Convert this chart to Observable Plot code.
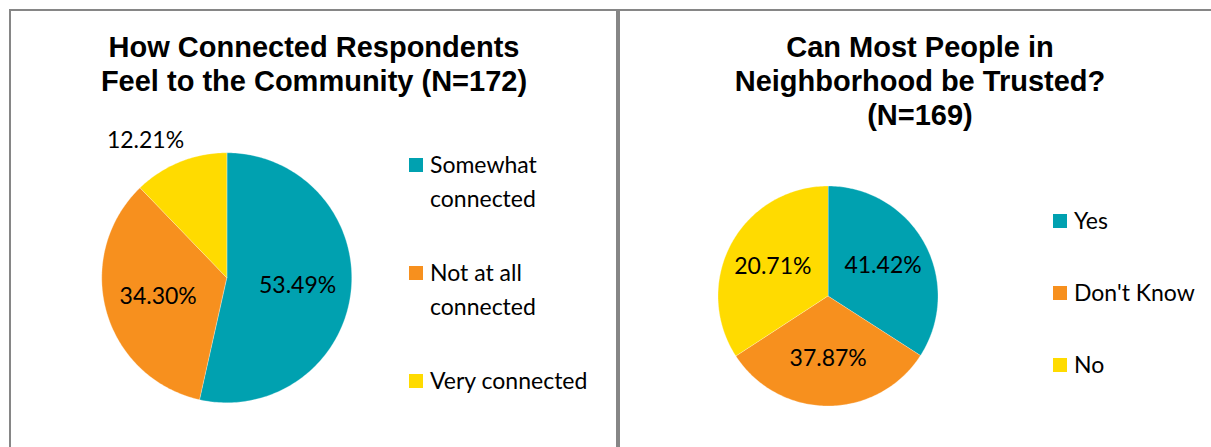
<!DOCTYPE html>
<html>
<head>
<meta charset="utf-8">
<script src="https://cdn.jsdelivr.net/npm/d3@7"></script>
<script src="https://cdn.jsdelivr.net/npm/@observablehq/plot@0.6"></script>
<style>
  html, body { margin: 0; padding: 0; background: #fff; }
  #root { position: relative; width: 1211px; height: 447px; overflow: hidden; background: #fff; }
  .panel { position: absolute; box-sizing: border-box; border: 2px solid #868686; border-bottom: none; height: 500px; }
  .title { position: absolute; width: 600px; text-align: center; font-family: "Liberation Sans", Arial, sans-serif;
           font-weight: bold; font-size: 29px; line-height: 34px; color: #000; }
  .pie { position: absolute; }
  .legend { position: absolute; }
  .lg-swatches { font-family: Lato, sans-serif; font-size: 23px; margin: 0; color: #000;
                 display: flex; flex-direction: column; align-items: flex-start; }
  .lg-swatches .lg-swatch { display: flex; align-items: flex-start; margin: 0; line-height: 34px; }
  .lg-swatches .lg-swatch > svg { margin-top: 11px; margin-right: 7px; flex-shrink: 0; }
  #legend1 .lg-swatch { margin-bottom: 40px; }
  #legend2 .lg-swatch { margin-bottom: 38px; }
</style>
</head>
<body>
<div id="root">
  <div class="panel" style="left:9px; top:9px; width:609px;"></div>
  <div class="panel" style="left:618px; top:9px; width:700px; border-right:none;"></div>
  <div class="title" id="title1" style="left:14px; top:30px;"></div>
  <div class="title" id="title2" style="left:620px; top:30px;"></div>
  <div class="pie" id="pie1"></div>
  <div class="pie" id="pie2"></div>
  <div class="legend" id="legend1" style="left:409px; top:147px; width:195px;"></div>
  <div class="legend" id="legend2" style="left:1053px; top:203px; width:155px;"></div>
</div>
<script>
// ---- data ----
const chart1Title = ["How Connected Respondents", "Feel to the Community (N=172)"];
const chart1Categories = ["Somewhat connected", "Not at all connected", "Very connected"];
const chart1Values = [53.49, 34.30, 12.21];          // slice sizes and printed labels

const chart2Title = ["Can Most People in", "Neighborhood be Trusted?", "(N=169)"];
const chart2Categories = ["Yes", "Don't Know", "No"];
const chart2Labels = [41.42, 37.87, 20.71];          // printed percentages
const chart2SliceShares = [34.1, 31.7, 34.2];        // slice sizes as drawn in the picture

const sliceColors = ["#00A1B0", "#F7901E", "#FFDB00"];

// ---- drawing ----
function setTitle(id, lines) {
  const el = document.getElementById(id);
  lines.forEach((t, i) => {
    if (i) el.appendChild(document.createElement("br"));
    el.appendChild(document.createTextNode(t));
  });
}

function pieChart(categories, shares, labels, radius, cx, cy, host) {
  const D = 1.25;
  const size = 2 * D * radius;
  const arcs = d3.pie().sort(null).value(d => d)(shares);
  const pts = [];
  const inside = [], outside = [];
  arcs.forEach((a, i) => {
    const cat = categories[i];
    pts.push({cat, x: 0, y: 0});
    const n = Math.max(2, Math.ceil((a.endAngle - a.startAngle) * 180 / Math.PI));
    for (let k = 0; k <= n; k++) {
      const t = a.startAngle + (a.endAngle - a.startAngle) * k / n;
      pts.push({cat, x: Math.sin(t), y: Math.cos(t)});
    }
    const mid = (a.startAngle + a.endAngle) / 2;
    const label = labels[i].toFixed(2) + "%";
    if (shares[i] < 15) {
      outside.push({x: 1.06 * Math.sin(mid), y: 1.06 * Math.cos(mid), label});
    } else {
      inside.push({x: 0.57 * Math.sin(mid), y: 0.57 * Math.cos(mid), label});
    }
  });
  const chart = Plot.plot({
    width: size, height: size, margin: 0,
    x: {domain: [-D, D], axis: null},
    y: {domain: [-D, D], axis: null},
    color: {domain: categories, range: sliceColors},
    style: {background: "transparent", overflow: "visible"},
    marks: [
      Plot.line(pts, {x: "x", y: "y", z: "cat", fill: "cat", stroke: "white", strokeWidth: 0.5, strokeOpacity: 0.6, curve: "linear-closed"}),
      Plot.text(inside, {x: "x", y: "y", text: "label", fontSize: 23, fontFamily: "Lato, sans-serif", fill: "black"}),
      Plot.text(outside, {x: "x", y: "y", text: "label", fontSize: 23, fontFamily: "Lato, sans-serif", fill: "black",
                          textAnchor: "end", lineAnchor: "bottom", dx: 7, dy: -7})
    ]
  });
  const el = document.getElementById(host);
  el.style.left = (cx - size / 2) + "px";
  el.style.top = (cy - size / 2) + "px";
  el.appendChild(chart);
}

function legend(categories, host) {
  const lg = Plot.legend({
    color: {domain: categories, range: sliceColors},
    legend: "swatches", className: "lg", swatchSize: 14
  });
  document.getElementById(host).appendChild(lg);
}

setTitle("title1", chart1Title);
setTitle("title2", chart2Title);
pieChart(chart1Categories, chart1Values, chart1Values, 125, 226, 277, "pie1");
pieChart(chart2Categories, chart2SliceShares, chart2Labels, 110, 827, 295, "pie2");
legend(chart1Categories, "legend1");
legend(chart2Categories, "legend2");
</script>
</body>
</html>
